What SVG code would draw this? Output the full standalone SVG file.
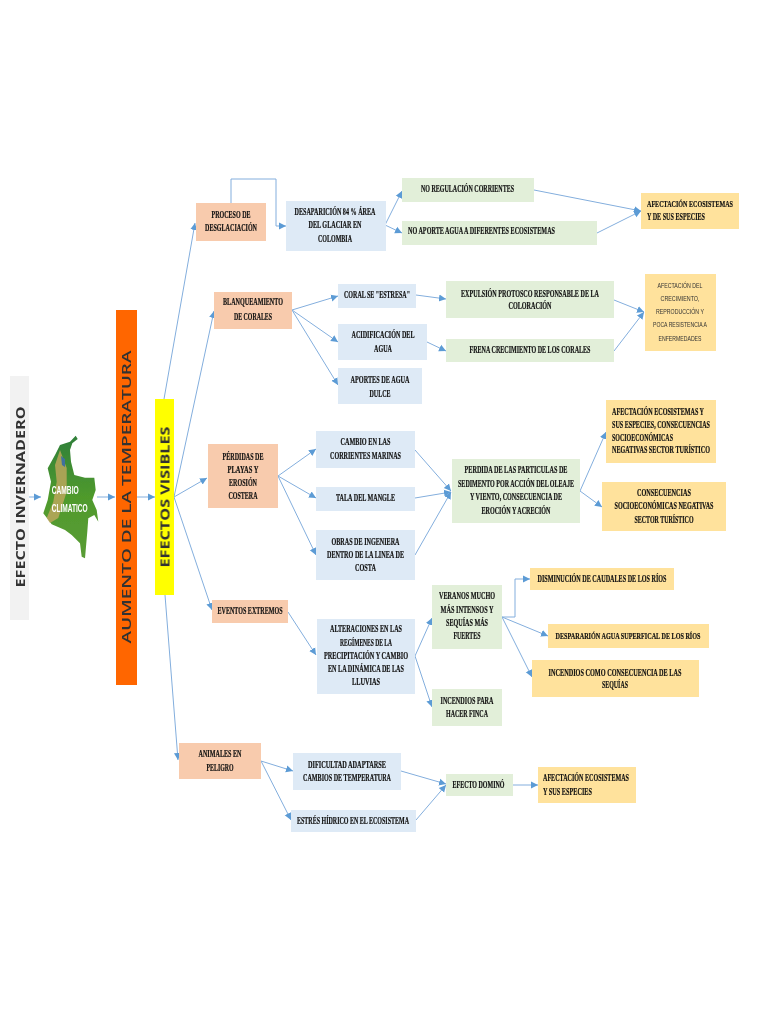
<svg xmlns="http://www.w3.org/2000/svg" width="768" height="1024" viewBox="0 0 768 1024">
<style>
.peach{fill:#f8cbad}.blue{fill:#deeaf6}.green{fill:#e2efd9}.gold{fill:#ffe29c}
text{font-family:"Liberation Serif",serif;font-size:9.5px;font-weight:bold;fill:#111;stroke:#111;stroke-width:.2;text-anchor:middle}
.l{text-anchor:start}
.s9{font-size:9px}
.thin{font-family:"Liberation Sans",sans-serif;font-size:7.5px;font-weight:normal;fill:#333;stroke:none}
.side{font-family:"Open Sans","Liberation Sans",sans-serif;fill:#333;stroke:none}
.map{font-family:"Liberation Sans",sans-serif;font-size:10px;font-weight:bold;fill:#fff;stroke:none;text-anchor:start}
#connectors path{fill:none;stroke:#83aedd;stroke-width:1;marker-end:url(#a)}
</style>
<defs>
<filter id="soft" filterUnits="userSpaceOnUse" x="0" y="0" width="768" height="1024"><feGaussianBlur stdDeviation="0.4"/></filter>
<marker id="a" markerUnits="userSpaceOnUse" markerWidth="9" markerHeight="9" refX="7" refY="4.500" orient="auto"><path d="M0 1L7 4.500L0 8Z" style="fill:#5b9bd5;stroke:none;marker-end:none"/></marker>
<linearGradient id="land" x1="0" y1="0" x2="0" y2="1"><stop offset="0" stop-color="#2f7f3a"/><stop offset=".5" stop-color="#4f9a2c"/><stop offset="1" stop-color="#5a9c35"/></linearGradient>
</defs>
<rect width="768" height="1024" fill="#fff"/>
<g filter="url(#soft)">
<g id="connectors">
<path d="M29 497H41"/><path d="M97 497H115"/><path d="M137 497H155"/>
<path d="M164 399L195 223"/><path d="M174 497L214 311"/><path d="M174 497L207 478"/><path d="M174 497L212 610"/><path d="M165 595L178 760"/>
<path d="M231 203V179H276V226H286"/>
<path d="M385 225L402 191"/><path d="M385 225L402 233"/><path d="M534 190L641 211"/><path d="M597 233L641 211"/>
<path d="M292 310L338 296"/><path d="M292 310L338 342"/><path d="M292 310L338 385"/>
<path d="M416 295L446 299"/><path d="M427 342L446 351"/><path d="M614 300L644 312"/><path d="M614 351L644 312"/>
<path d="M278 476L316 449"/><path d="M278 476L316 498"/><path d="M278 476L316 555"/>
<path d="M415 450L451 491"/><path d="M415 498L451 492"/><path d="M415 555L451 492"/>
<path d="M580 491L606 432"/><path d="M580 491L602 507"/>
<path d="M288 612L316 655"/><path d="M415 656L432 618"/><path d="M415 656L432 707"/>
<path d="M502 617H515V579H530"/><path d="M502 617L548 636"/><path d="M502 617L532 677"/>
<path d="M261 761L293 771"/><path d="M261 761L291 820"/><path d="M401 771L446 784"/><path d="M416 820L446 785"/><path d="M513 785H538"/>
</g>
<g id="efecto-invernadero"><rect x="10" y="376" width="19" height="244" fill="#f2f2f2"/><text class="side" style="font-size:12.5px" transform="translate(24.5 497) rotate(-90)" textLength="181" lengthAdjust="spacingAndGlyphs">EFECTO INVERNADERO</text></g>
<g id="cambio-climatico">
<path d="M75.700 435.700L77.700 439L72.300 443.300L70 450L71 461.700L74.300 475L85 477.700L94.300 477.700L95.700 490L92.300 500L96.700 510L98.300 521.700L94.300 515L88.300 518.300L87.300 531.700L85 558.300L81.700 556.700L80 543.300L71.700 535L65 530L51.700 524.300L43.300 513.300L47.700 500L51 481.700L47.700 468.300L55 455L60 445L70 441.700Z" fill="url(#land)"/>
<path d="M60 450L66.700 468L66.700 491.700L58.300 518L50 523L46.700 518L53.300 501.700L56.700 481.700L55 465Z" fill="#c2a85e" opacity=".8"/>
<path d="M61 456L65 459L65 467L62 465Z" fill="#3f6f9e"/>
<text class="map" x="51.700" y="494" textLength="27" lengthAdjust="spacingAndGlyphs">CAMBIO</text>
<text class="map" x="51.700" y="512" textLength="36" lengthAdjust="spacingAndGlyphs">CLIMATICO</text>
</g>
<g id="aumento"><rect x="116" y="310" width="21" height="375" fill="#ff6600"/><text class="side" style="font-size:13px;font-weight:600" transform="translate(131 497) rotate(-90)" textLength="293" lengthAdjust="spacingAndGlyphs">AUMENTO  DE  LA TEMPERATURA</text></g>
<g id="efectos-visibles"><rect x="155" y="399" width="19" height="196" fill="#ffff00"/><text class="side" style="font-size:11.5px" transform="translate(169.5 497) rotate(-90)" textLength="141" lengthAdjust="spacingAndGlyphs">EFECTOS VISIBLES</text></g>

<g id="proceso"><rect class="peach" x="196" y="203" width="70" height="38"/><text x="231" y="218" textLength="39" lengthAdjust="spacingAndGlyphs">PROCESO DE</text><text x="231" y="231" textLength="52" lengthAdjust="spacingAndGlyphs">DESGLACIACIÓN</text></g>
<g id="desaparicion"><rect class="blue" x="286" y="201" width="100" height="50"/><text x="335" y="215" textLength="81" lengthAdjust="spacingAndGlyphs">DESAPARICIÓN 84 % ÁREA</text><text x="335" y="228" textLength="53" lengthAdjust="spacingAndGlyphs">DEL GLACIAR EN</text><text x="335" y="242" textLength="34" lengthAdjust="spacingAndGlyphs">COLOMBIA</text></g>
<g id="no-regulacion"><rect class="green" x="402" y="178" width="132" height="24"/><text x="467.500" y="192" textLength="93" lengthAdjust="spacingAndGlyphs">NO REGULACIÓN CORRIENTES</text></g>
<g id="no-aporte"><rect class="green" x="402" y="221" width="195" height="24"/><text x="481.500" y="234" textLength="147" lengthAdjust="spacingAndGlyphs">NO APORTE AGUA A DIFERENTES ECOSISTEMAS</text></g>
<g id="afectacion-1"><rect class="gold" x="641" y="193" width="98" height="36"/><text class="l s9" x="647" y="207" textLength="86" lengthAdjust="spacingAndGlyphs">AFECTACIÓN ECOSISTEMAS</text><text class="l" x="647" y="220" textLength="58" lengthAdjust="spacingAndGlyphs">Y DE SUS ESPECIES</text></g>

<g id="blanqueamiento"><rect class="peach" x="214" y="292" width="78" height="37"/><text x="253" y="305" textLength="60" lengthAdjust="spacingAndGlyphs">BLANQUEAMIENTO</text><text x="253" y="320" textLength="38" lengthAdjust="spacingAndGlyphs">DE CORALES</text></g>
<g id="coral"><rect class="blue" x="338" y="284" width="78" height="24"/><text x="377" y="298" textLength="66" lengthAdjust="spacingAndGlyphs">CORAL SE "ESTRESA"</text></g>
<g id="acidificacion"><rect class="blue" x="338" y="324" width="89" height="36"/><text x="383" y="338" textLength="63" lengthAdjust="spacingAndGlyphs">ACIDIFICACIÓN DEL</text><text x="383" y="352" textLength="18" lengthAdjust="spacingAndGlyphs">AGUA</text></g>
<g id="aportes"><rect class="blue" x="338" y="368" width="84" height="36"/><text x="380" y="383" textLength="59" lengthAdjust="spacingAndGlyphs">APORTES DE AGUA</text><text x="380" y="397" textLength="21" lengthAdjust="spacingAndGlyphs">DULCE</text></g>
<g id="expulsion"><rect class="green" x="446" y="281" width="168" height="37"/><text x="530" y="297" textLength="138" lengthAdjust="spacingAndGlyphs">EXPULSIÓN PROTOSCO RESPONSABLE DE LA</text><text x="530" y="309" textLength="43" lengthAdjust="spacingAndGlyphs">COLORACIÓN</text></g>
<g id="frena"><rect class="green" x="446" y="339" width="168" height="23"/><text x="530" y="353" textLength="121" lengthAdjust="spacingAndGlyphs">FRENA CRECIMIENTO DE LOS CORALES</text></g>
<g id="afectacion-2"><rect class="gold" x="645" y="274" width="71" height="77"/><text class="thin" x="680" y="288" textLength="45" lengthAdjust="spacingAndGlyphs">AFECTACIÓN DEL</text><text class="thin" x="680" y="301" textLength="39" lengthAdjust="spacingAndGlyphs">CRECIMIENTO,</text><text class="thin" x="680" y="314" textLength="48" lengthAdjust="spacingAndGlyphs">REPRODUCCIÓN Y</text><text class="thin" x="680" y="327" textLength="54" lengthAdjust="spacingAndGlyphs">POCA RESISTENCIA A</text><text class="thin" x="680" y="341" textLength="43" lengthAdjust="spacingAndGlyphs">ENFERMEDADES</text></g>

<g id="perdidas"><rect class="peach" x="208" y="444" width="70" height="64"/><text x="243" y="460" textLength="41" lengthAdjust="spacingAndGlyphs">PÉRDIDAS DE</text><text x="243" y="473" textLength="31" lengthAdjust="spacingAndGlyphs">PLAYAS Y</text><text x="243" y="486" textLength="28" lengthAdjust="spacingAndGlyphs">EROSIÓN</text><text x="243" y="499" textLength="29" lengthAdjust="spacingAndGlyphs">COSTERA</text></g>
<g id="cambio-corrientes"><rect class="blue" x="316" y="431" width="99" height="37"/><text x="365.500" y="445" textLength="50" lengthAdjust="spacingAndGlyphs">CAMBIO EN LAS</text><text x="365.500" y="459" textLength="71" lengthAdjust="spacingAndGlyphs">CORRIENTES MARINAS</text></g>
<g id="tala"><rect class="blue" x="316" y="487" width="99" height="24"/><text x="365.500" y="501" textLength="59" lengthAdjust="spacingAndGlyphs">TALA DEL MANGLE</text></g>
<g id="obras"><rect class="blue" x="316" y="530" width="99" height="50"/><text x="365.500" y="545" textLength="68" lengthAdjust="spacingAndGlyphs">OBRAS DE INGENIERA</text><text x="365.500" y="558" textLength="77" lengthAdjust="spacingAndGlyphs">DENTRO DE LA LINEA DE</text><text x="365.500" y="571" textLength="21" lengthAdjust="spacingAndGlyphs">COSTA</text></g>
<g id="perdida-particulas"><rect class="green" x="452" y="459" width="128" height="64"/><text x="516" y="473" textLength="103" lengthAdjust="spacingAndGlyphs">PERDIDA DE LAS PARTICULAS DE</text><text x="516" y="487" textLength="116" lengthAdjust="spacingAndGlyphs">SEDIMENTO POR ACCIÓN DEL OLEAJE</text><text x="516" y="500" textLength="92" lengthAdjust="spacingAndGlyphs">Y VIENTO, CONSECUENCIA DE</text><text x="516" y="514" textLength="69" lengthAdjust="spacingAndGlyphs">EROCIÓN Y ACRECIÓN</text></g>
<g id="afectacion-3"><rect class="gold" x="606" y="400" width="110" height="63"/><text class="l" x="612" y="415" textLength="92" lengthAdjust="spacingAndGlyphs">AFECTACIÓN ECOSISTEMAS Y</text><text class="l" x="612" y="428" textLength="98" lengthAdjust="spacingAndGlyphs">SUS ESPECIES, CONSECUENCIAS</text><text class="l" x="612" y="441" textLength="61" lengthAdjust="spacingAndGlyphs">SOCIOECONÓMICAS</text><text class="l" x="612" y="453" textLength="98" lengthAdjust="spacingAndGlyphs">NEGATIVAS SECTOR TURÍSTICO</text></g>
<g id="consecuencias"><rect class="gold" x="602" y="482" width="124" height="49"/><text x="664" y="496" textLength="54" lengthAdjust="spacingAndGlyphs">CONSECUENCIAS</text><text x="664" y="509" textLength="99" lengthAdjust="spacingAndGlyphs">SOCIOECONÓMICAS NEGATIVAS</text><text x="664" y="523" textLength="59" lengthAdjust="spacingAndGlyphs">SECTOR TURÍSTICO</text></g>

<g id="eventos"><rect class="peach" x="212" y="600" width="76" height="23"/><text x="250" y="614" textLength="65" lengthAdjust="spacingAndGlyphs">EVENTOS EXTREMOS</text></g>
<g id="alteraciones"><rect class="blue" x="317" y="619" width="98" height="75"/><text x="366" y="632" textLength="72" lengthAdjust="spacingAndGlyphs">ALTERACIONES EN LAS</text><text x="366" y="646" textLength="52" lengthAdjust="spacingAndGlyphs">REGÍMENES DE LA</text><text x="366" y="659" textLength="84" lengthAdjust="spacingAndGlyphs">PRECIPITACIÓN  Y CAMBIO</text><text x="366" y="672" textLength="76" lengthAdjust="spacingAndGlyphs">EN LA DINÁMICA DE LAS</text><text x="366" y="685" textLength="28" lengthAdjust="spacingAndGlyphs">LLUVIAS</text></g>
<g id="veranos"><rect class="green" x="432" y="585" width="70" height="64"/><text x="467" y="599" textLength="56" lengthAdjust="spacingAndGlyphs">VERANOS MUCHO</text><text x="467" y="613" textLength="53" lengthAdjust="spacingAndGlyphs">MÁS INTENSOS Y</text><text x="467" y="626" textLength="42" lengthAdjust="spacingAndGlyphs">SEQUÍAS MÁS</text><text x="467" y="639" textLength="27" lengthAdjust="spacingAndGlyphs">FUERTES</text></g>
<g id="incendios-finca"><rect class="green" x="432" y="689" width="70" height="37"/><text x="467" y="704" textLength="53" lengthAdjust="spacingAndGlyphs">INCENDIOS PARA</text><text x="467" y="717" textLength="42" lengthAdjust="spacingAndGlyphs">HACER FINCA</text></g>
<g id="disminucion"><rect class="gold" x="530" y="568" width="144" height="22"/><text x="602" y="582" textLength="129" lengthAdjust="spacingAndGlyphs">DISMINUCIÓN DE CAUDALES DE LOS RÍOS</text></g>
<g id="desparacion"><rect class="gold" x="548" y="624" width="161" height="24"/><text class="s9" x="628" y="639" textLength="145" lengthAdjust="spacingAndGlyphs">DESPARARIÓN AGUA SUPERFICAL DE LOS RÍOS</text></g>
<g id="incendios-sequias"><rect class="gold" x="532" y="660" width="167" height="37"/><text x="615" y="676" textLength="133" lengthAdjust="spacingAndGlyphs">INCENDIOS  COMO CONSECUENCIA DE LAS</text><text x="615" y="688" textLength="26" lengthAdjust="spacingAndGlyphs">SEQUÍAS</text></g>

<g id="animales"><rect class="peach" x="179" y="743" width="82" height="36"/><text x="220" y="757" textLength="43" lengthAdjust="spacingAndGlyphs">ANIMALES EN</text><text x="220" y="771" textLength="27" lengthAdjust="spacingAndGlyphs">PELIGRO</text></g>
<g id="dificultad"><rect class="blue" x="293" y="753" width="108" height="37"/><text x="347" y="768" textLength="78" lengthAdjust="spacingAndGlyphs">DIFICULTAD ADAPTARSE</text><text x="347" y="781" textLength="88" lengthAdjust="spacingAndGlyphs">CAMBIOS DE TEMPERATURA</text></g>
<g id="estres"><rect class="blue" x="291" y="810" width="125" height="22"/><text x="353" y="824" textLength="112" lengthAdjust="spacingAndGlyphs">ESTRÉS HÍDRICO EN EL ECOSISTEMA</text></g>
<g id="efecto-domino"><rect class="green" x="446" y="774" width="67" height="22"/><text x="478.500" y="788" textLength="52" lengthAdjust="spacingAndGlyphs">EFECTO DOMINÓ</text></g>
<g id="afectacion-4"><rect class="gold" x="538" y="767" width="98" height="36"/><text class="l" x="543" y="781" textLength="86" lengthAdjust="spacingAndGlyphs">AFECTACIÓN ECOSISTEMAS</text><text class="l" x="543" y="795" textLength="49" lengthAdjust="spacingAndGlyphs">Y SUS ESPECIES</text></g>
</g>
</svg>
